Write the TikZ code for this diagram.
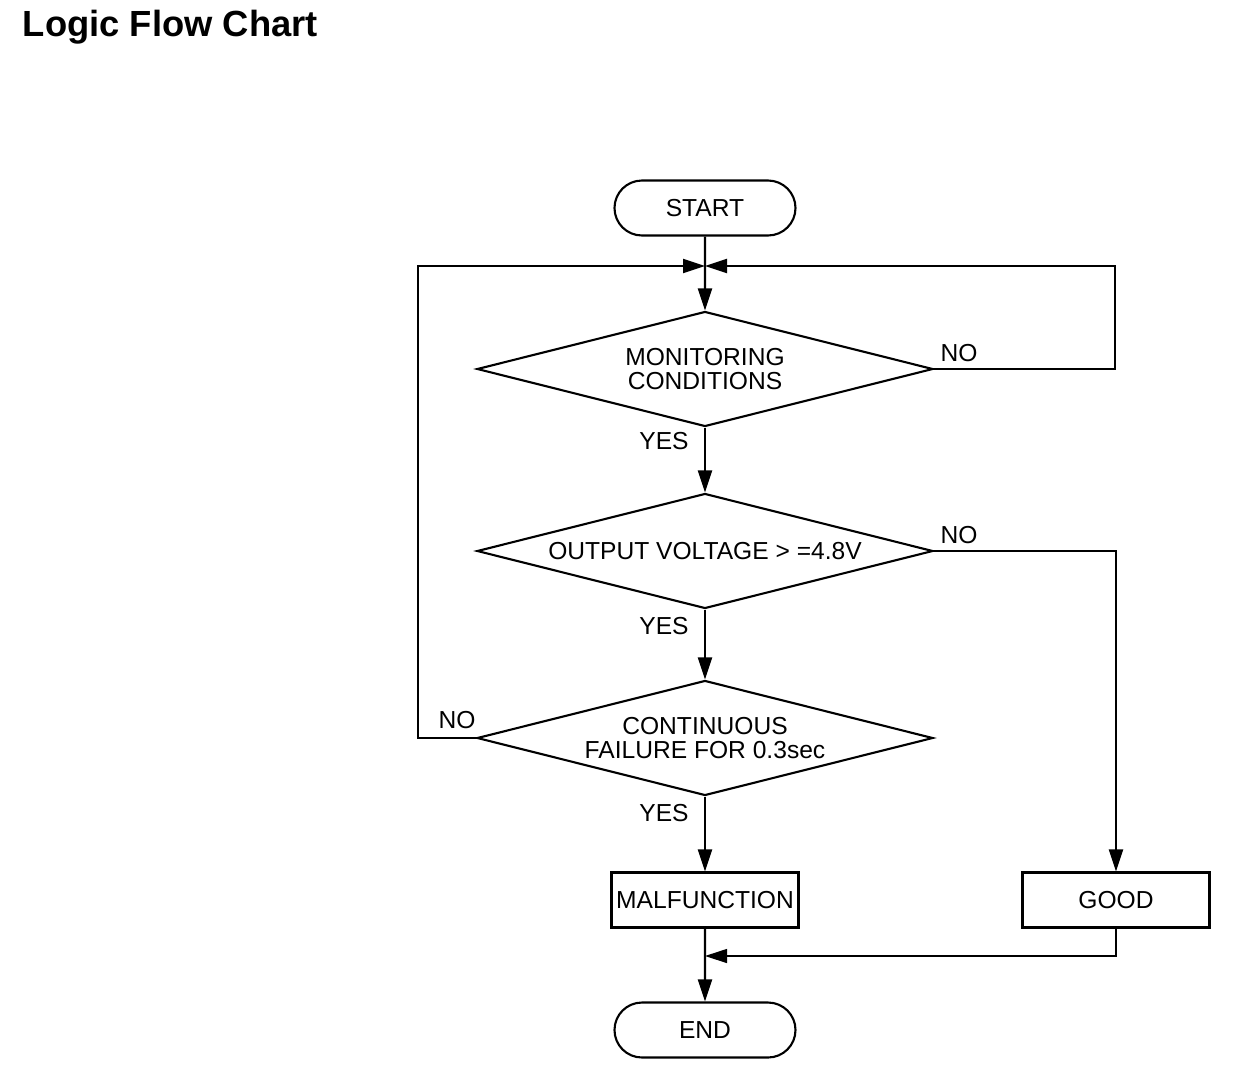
\documentclass[tikz,border=0pt]{standalone}
\usepackage{fontspec}
\setmainfont{Liberation Sans}
\usetikzlibrary{shapes.geometric, shapes.misc, arrows.meta}
\def\unit{0.02cm}

\begin{document}
\begin{tikzpicture}[x=\unit, y=-\unit, line width=1.2pt, >={Triangle[length=0.44cm, width=0.28cm]},
    font=\fontsize{14}{14.2}\selectfont]
  \tikzstyle{terminal}=[draw, rounded rectangle, minimum width=181*\unit, minimum height=55*\unit, inner sep=0pt]
  \tikzstyle{decision}=[draw, diamond, aspect=4, minimum width=456*\unit, minimum height=115*\unit, inner sep=0pt, align=center]
  \tikzstyle{process}=[draw, rectangle, minimum width=187*\unit, minimum height=55*\unit, inner sep=0pt]
  \tikzstyle{answer}=[inner sep=0pt]

  \useasboundingbox (0,0) rectangle (1248,1076);

  % Title
  \node[anchor=base west, font=\bfseries\fontsize{20.7}{24}\selectfont] (title) at (16,36) {Logic Flow Chart};

  % Draw the main column
  \node[terminal] (start) at (705,208) {START};
  \node[decision] (D-1) at (705,369) {MONITORING\\CONDITIONS};
  \node[decision] (D-2) at (705,551) {OUTPUT VOLTAGE > =4.8V};
  \node[decision] (D-3) at (705,738) {CONTINUOUS\\FAILURE FOR 0.3sec};
  \node[process] (malf) at (705,900) {MALFUNCTION};
  \node[process] (good) at (1116,900) {GOOD};
  \node[terminal] (end) at (705,1030) {END};

  % Junction and corner points
  \coordinate (J) at (705,266);
  \coordinate (R) at (1115,266);
  \coordinate (L) at (418,266);
  \coordinate (M) at (705,956);

  % Connect the column
  \draw[->] (start) -- (D-1);
  \draw[->] (D-1) -- (D-2);
  \draw[->] (D-2) -- (D-3);
  \draw[->] (D-3) -- (malf);
  \draw[->] (malf) -- (end);

  % Loops back and side branch
  \draw[->] (D-1.east) -| (R) -- (J);
  \draw[->] (D-3.west) -| (L) -- (J);
  \draw[->] (D-2.east) -| (good);
  \draw[->, line width=0.7pt] (good) |- (M);

  % Annotate the branches
  \node[answer] (yes-1) at (664,441) {YES};
  \node[answer] (yes-2) at (664,626) {YES};
  \node[answer] (yes-3) at (664,813) {YES};
  \node[answer] (no-1) at (959,353) {NO};
  \node[answer] (no-2) at (959,535) {NO};
  \node[answer] (no-3) at (457,720) {NO};
\end{tikzpicture}
\end{document}
